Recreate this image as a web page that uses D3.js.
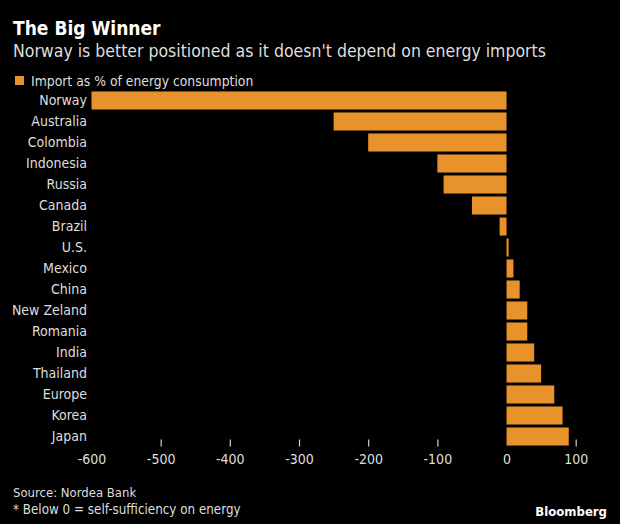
<!DOCTYPE html>
<html>
<head>
<meta charset="utf-8">
<script src="https://cdn.jsdelivr.net/npm/d3@7"></script>
<style>
  html, body { margin: 0; padding: 0; background: #000; }
  svg { display: block; }
  text { font-family: "DejaVu Sans Condensed", "DejaVu Sans", sans-serif; font-stretch: condensed; }
</style>
</head>
<body>
<script>
const countries = ["Norway","Australia","Colombia","Indonesia","Russia","Canada","Brazil","U.S.","Mexico","China","New Zeland","Romania","India","Thailand","Europe","Korea","Japan"];
const importPct = [-600,-250,-200,-100,-91,-50,-10,3,10,19,30,30,40,50,69,81,90];
const tickValues = [-600,-500,-400,-300,-200,-100,0,100];
const title = "The Big Winner";
const subtitle = "Norway is better positioned as it doesn't depend on energy imports";
const legendLabel = "Import as % of energy consumption";
const sourceNote = "Source: Nordea Bank";
const footNote = "* Below 0 = self-sufficiency on energy";

const W = 620, H = 524;
const orange = "#e8922c";
const textCol = "#dedede";

const svg = d3.select("body").append("svg").attr("width", W).attr("height", H);
svg.append("rect").attr("width", W).attr("height", H).attr("fill", "#000");

const x = d3.scaleLinear().domain([-600, 100]).range([91.5, 575.7]);
const y = d3.scaleBand().domain(countries).range([90, 447]).paddingInner(0.14).paddingOuter(0.07);

// title
svg.append("text").attr("x", 13).attr("y", 35).attr("fill", "#fff")
  .attr("font-size", 19).attr("font-weight", "bold").text(title);
svg.append("text").attr("x", 13).attr("y", 57).attr("fill", textCol)
  .attr("font-size", 17.5).text(subtitle);

// legend
svg.append("rect").attr("x", 15).attr("y", 76).attr("width", 9).attr("height", 9).attr("fill", orange);
svg.append("text").attr("x", 31).attr("y", 85.5).attr("fill", textCol)
  .attr("font-size", 13.8).text(legendLabel);

// x axis ticks
const xAxis = d3.axisBottom(x).tickValues(tickValues).tickSize(7).tickPadding(8)
  .tickFormat(d => String(d));
const gx = svg.append("g").attr("transform", "translate(0,439.5)").call(xAxis);
gx.select(".domain").remove();
gx.selectAll(".tick line").attr("stroke", "#cfcfcf").attr("stroke-width", 1.2)
  .filter(d => d === -600 || d === 0).remove();
gx.selectAll(".tick text").attr("fill", textCol).attr("font-size", 14)
  .style("font-family", "'DejaVu Sans Condensed', 'DejaVu Sans', sans-serif");

// bars
svg.append("g").selectAll("rect").data(countries).join("rect")
  .attr("x", (d, i) => x(Math.min(0, importPct[i])))
  .attr("y", d => y(d))
  .attr("width", (d, i) => Math.abs(x(importPct[i]) - x(0)))
  .attr("height", y.bandwidth())
  .attr("fill", orange);

// category labels
svg.append("g").selectAll("text").data(countries).join("text")
  .attr("x", 87).attr("y", d => y(d) + y.bandwidth() / 2)
  .attr("dy", "0.35em").attr("text-anchor", "end")
  .attr("fill", textCol).attr("font-size", 14).text(d => d);

// footer
svg.append("text").attr("x", 13).attr("y", 497).attr("fill", textCol)
  .attr("font-size", 13).text(sourceNote);
svg.append("text").attr("x", 13).attr("y", 514).attr("fill", textCol)
  .attr("font-size", 13.3).text(footNote);
svg.append("text").attr("x", 607).attr("y", 516).attr("fill", "#fff")
  .attr("text-anchor", "end").attr("font-size", 13).attr("font-weight", "bold").text("Bloomberg");
</script>
</body>
</html>
